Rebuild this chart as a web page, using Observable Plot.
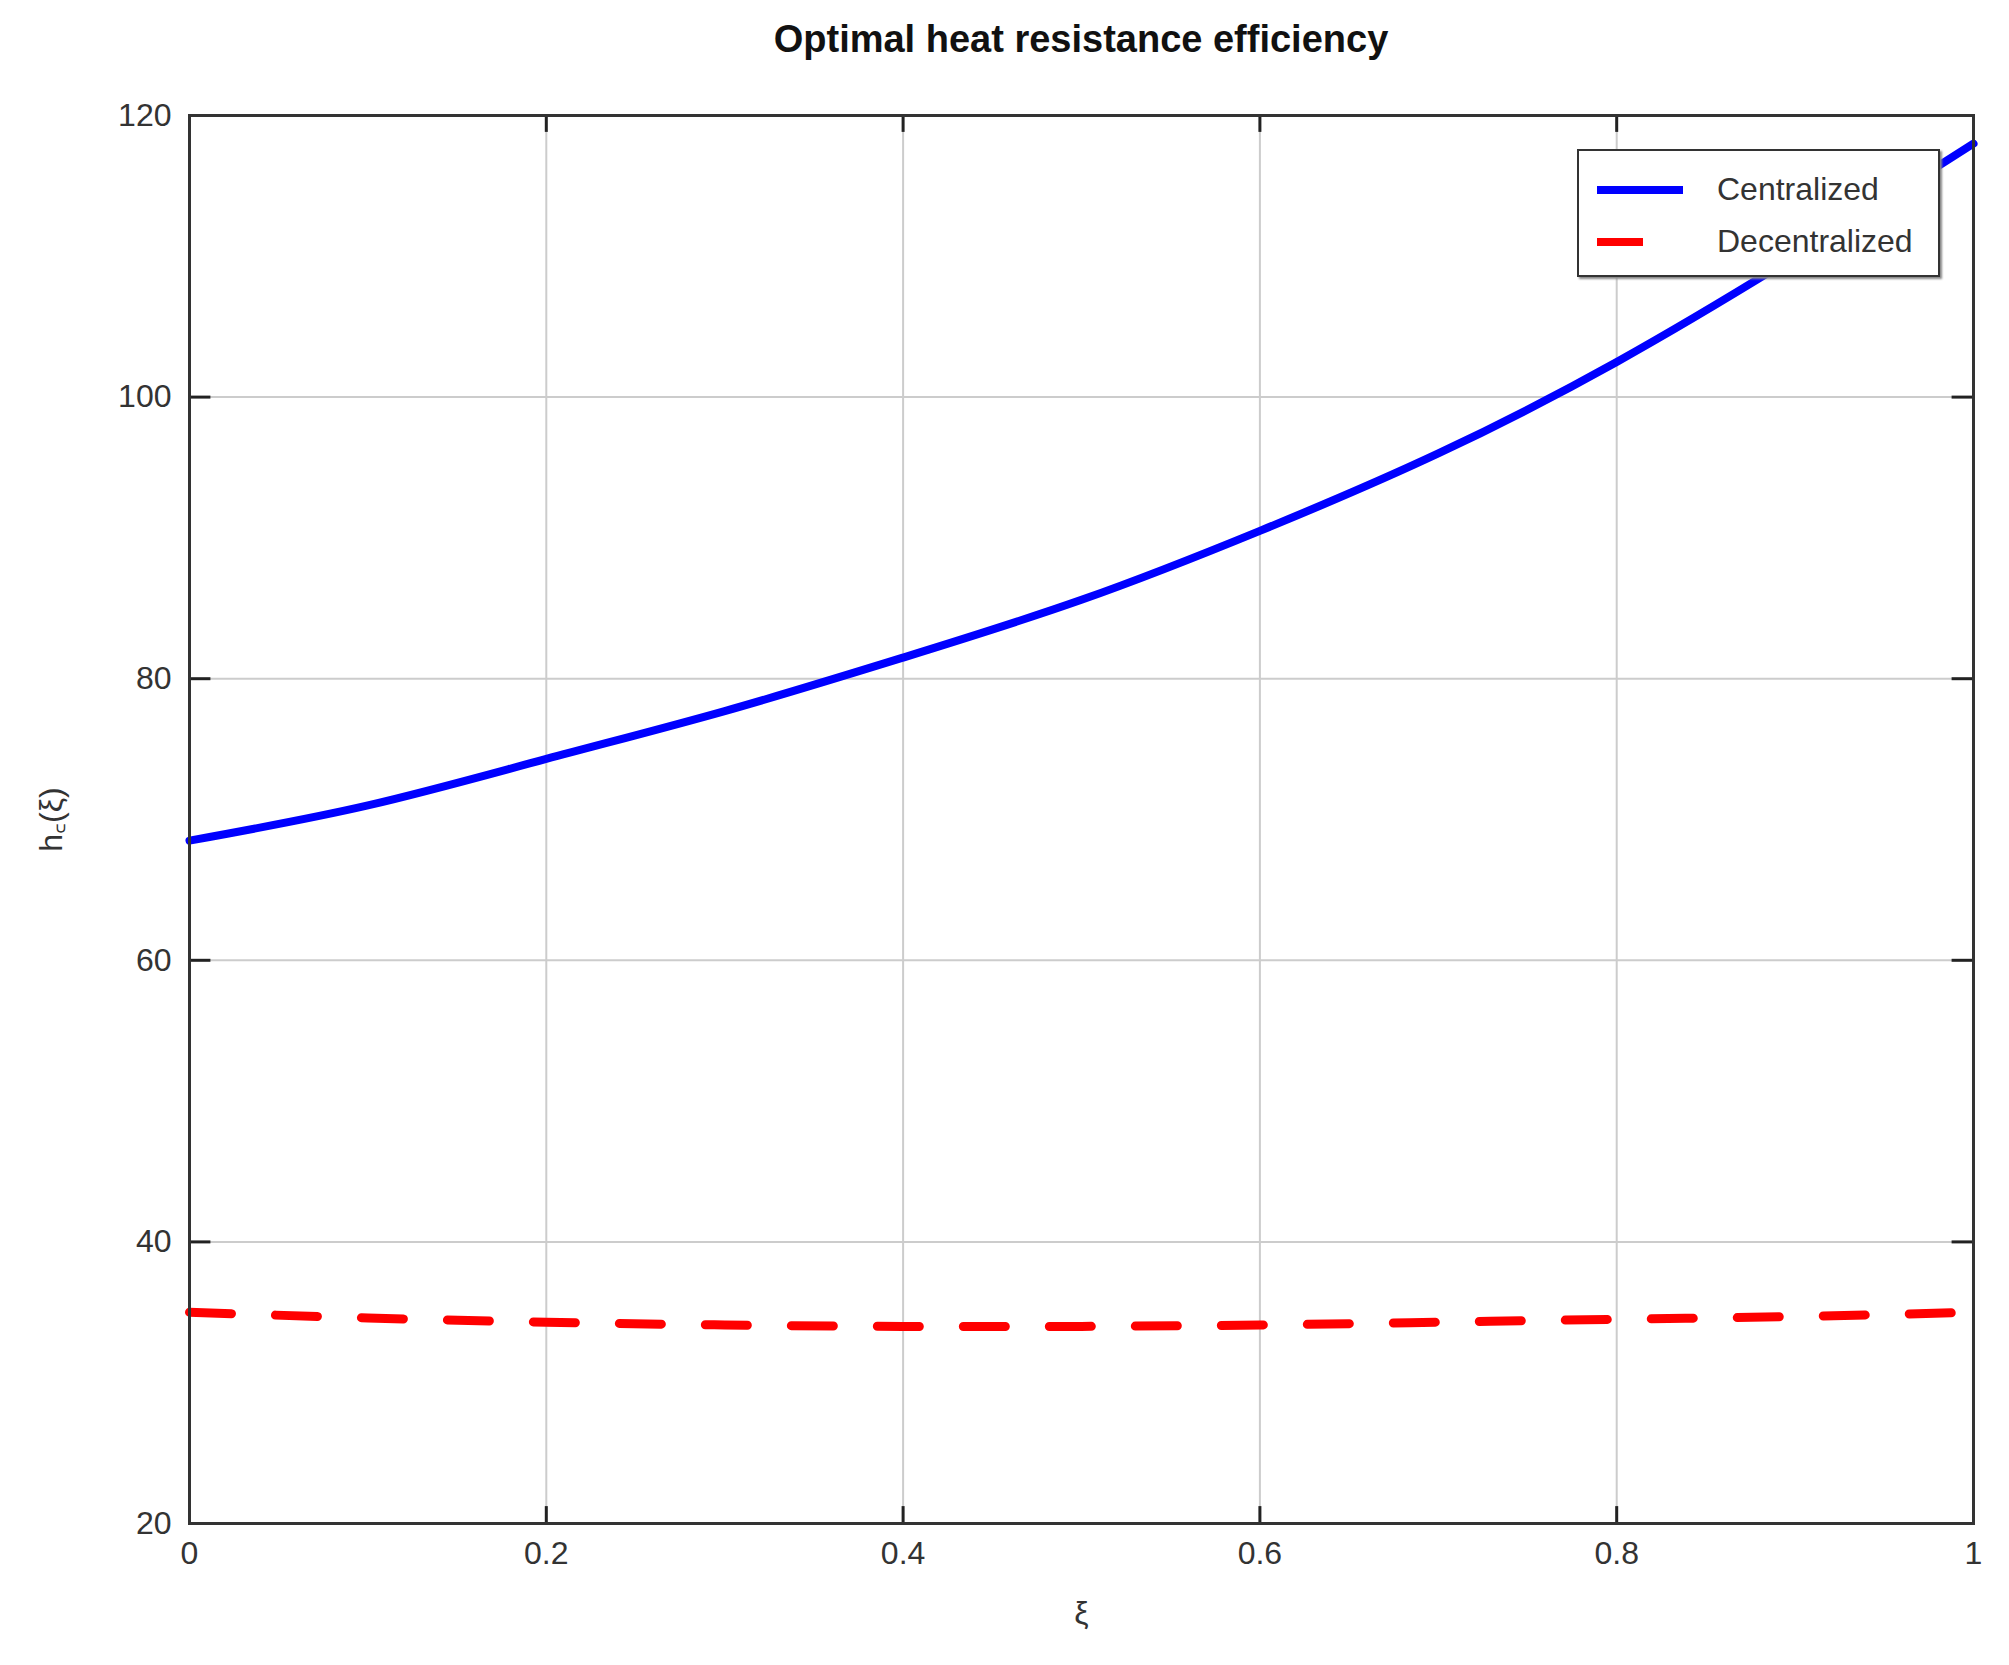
<!DOCTYPE html>
<html><head><meta charset="utf-8">
<script src="https://cdn.jsdelivr.net/npm/d3@7"></script>
<script src="https://cdn.jsdelivr.net/npm/@observablehq/plot@0.6"></script>
<style>
body{margin:0;background:#fff;font-family:"Liberation Sans",Arial,sans-serif;}
#wrap{position:relative;width:2009px;height:1665px;}
#title{position:absolute;top:18px;left:189px;width:1784px;text-align:center;font-weight:bold;font-size:38px;color:#111;}
#plot{position:absolute;top:90px;left:0;}
#legend{position:absolute;left:1577px;top:149px;width:359px;height:124px;border:2px solid #333;background:#fff;box-shadow:2px 2px 2px #888;font-size:32px;color:#333;}
.row{position:absolute;left:18px;display:flex;align-items:center;}
.sw{width:86px;height:0;margin-right:34px;}
</style></head><body>
<div id="wrap">
<div id="title">Optimal heat resistance efficiency</div>
<div id="plot"></div>
<div id="legend">
<div class="row" style="top:20px"><div class="sw" style="border-top:8px solid #0000ff"></div>Centralized</div>
<div class="row" style="top:72px"><div class="sw" style="border-top:8px solid #ff0000;width:46px;margin-right:74px"></div>Decentralized</div>
</div>
</div>
<script>
const xi = [0,0.1,0.2,0.3,0.4,0.5,0.6,0.7,0.8,0.9,1.0];
const centralized = [68.5,71,74.3,77.7,81.5,85.6,90.5,96,102.5,110,118];
const decentralized = [35,34.6,34.3,34.1,34,34,34.1,34.3,34.5,34.7,35];
const c = xi.map((x,i)=>({x,y:centralized[i]}));
const d = xi.map((x,i)=>({x,y:decentralized[i]}));
const xTicks=[0,0.2,0.4,0.6,0.8,1], yTicks=[20,40,60,80,100,120];
const chart = Plot.plot({
  width:2009, height:1575,
  marginLeft:189, marginRight:36, marginTop:25, marginBottom:142,
  style:{fontSize:"32px",fontFamily:"Liberation Sans, Arial, sans-serif",color:"#333"},
  x:{domain:[0,1]},
  y:{domain:[20,120]},
  marks:[
    Plot.gridX(xTicks,{stroke:"#ccc",strokeOpacity:1,strokeWidth:2}),
    Plot.gridY(yTicks,{stroke:"#ccc",strokeOpacity:1,strokeWidth:2}),
    Plot.ruleX(xTicks,{x:d=>d,y1:20,y2:21.2,stroke:"#222",strokeWidth:3}),
    Plot.ruleX(xTicks,{x:d=>d,y1:118.8,y2:120,stroke:"#222",strokeWidth:3}),
    Plot.ruleY(yTicks,{y:d=>d,x1:0,x2:0.012,stroke:"#222",strokeWidth:3}),
    Plot.ruleY(yTicks,{y:d=>d,x1:0.988,x2:1,stroke:"#222",strokeWidth:3}),
    Plot.line(c,{x:"x",y:"y",stroke:"#0000ff",strokeWidth:8,curve:"natural"}),
    Plot.line(d,{x:"x",y:"y",stroke:"#ff0000",strokeWidth:9,strokeDasharray:"42,44",curve:"natural"}),
    Plot.frame({stroke:"#333",strokeWidth:3}),
    Plot.axisX({tickSize:0,tickPadding:18,ticks:xTicks,tickFormat:d=>String(d),label:"ξ",labelAnchor:"center",labelArrow:"none",labelOffset:100}),
    Plot.axisY({tickSize:0,tickPadding:18,ticks:yTicks,label:"h꜀(ξ)",labelAnchor:"center",labelArrow:"none",labelOffset:150})
  ]
});
document.getElementById("plot").appendChild(chart);
</script>
</body></html>
